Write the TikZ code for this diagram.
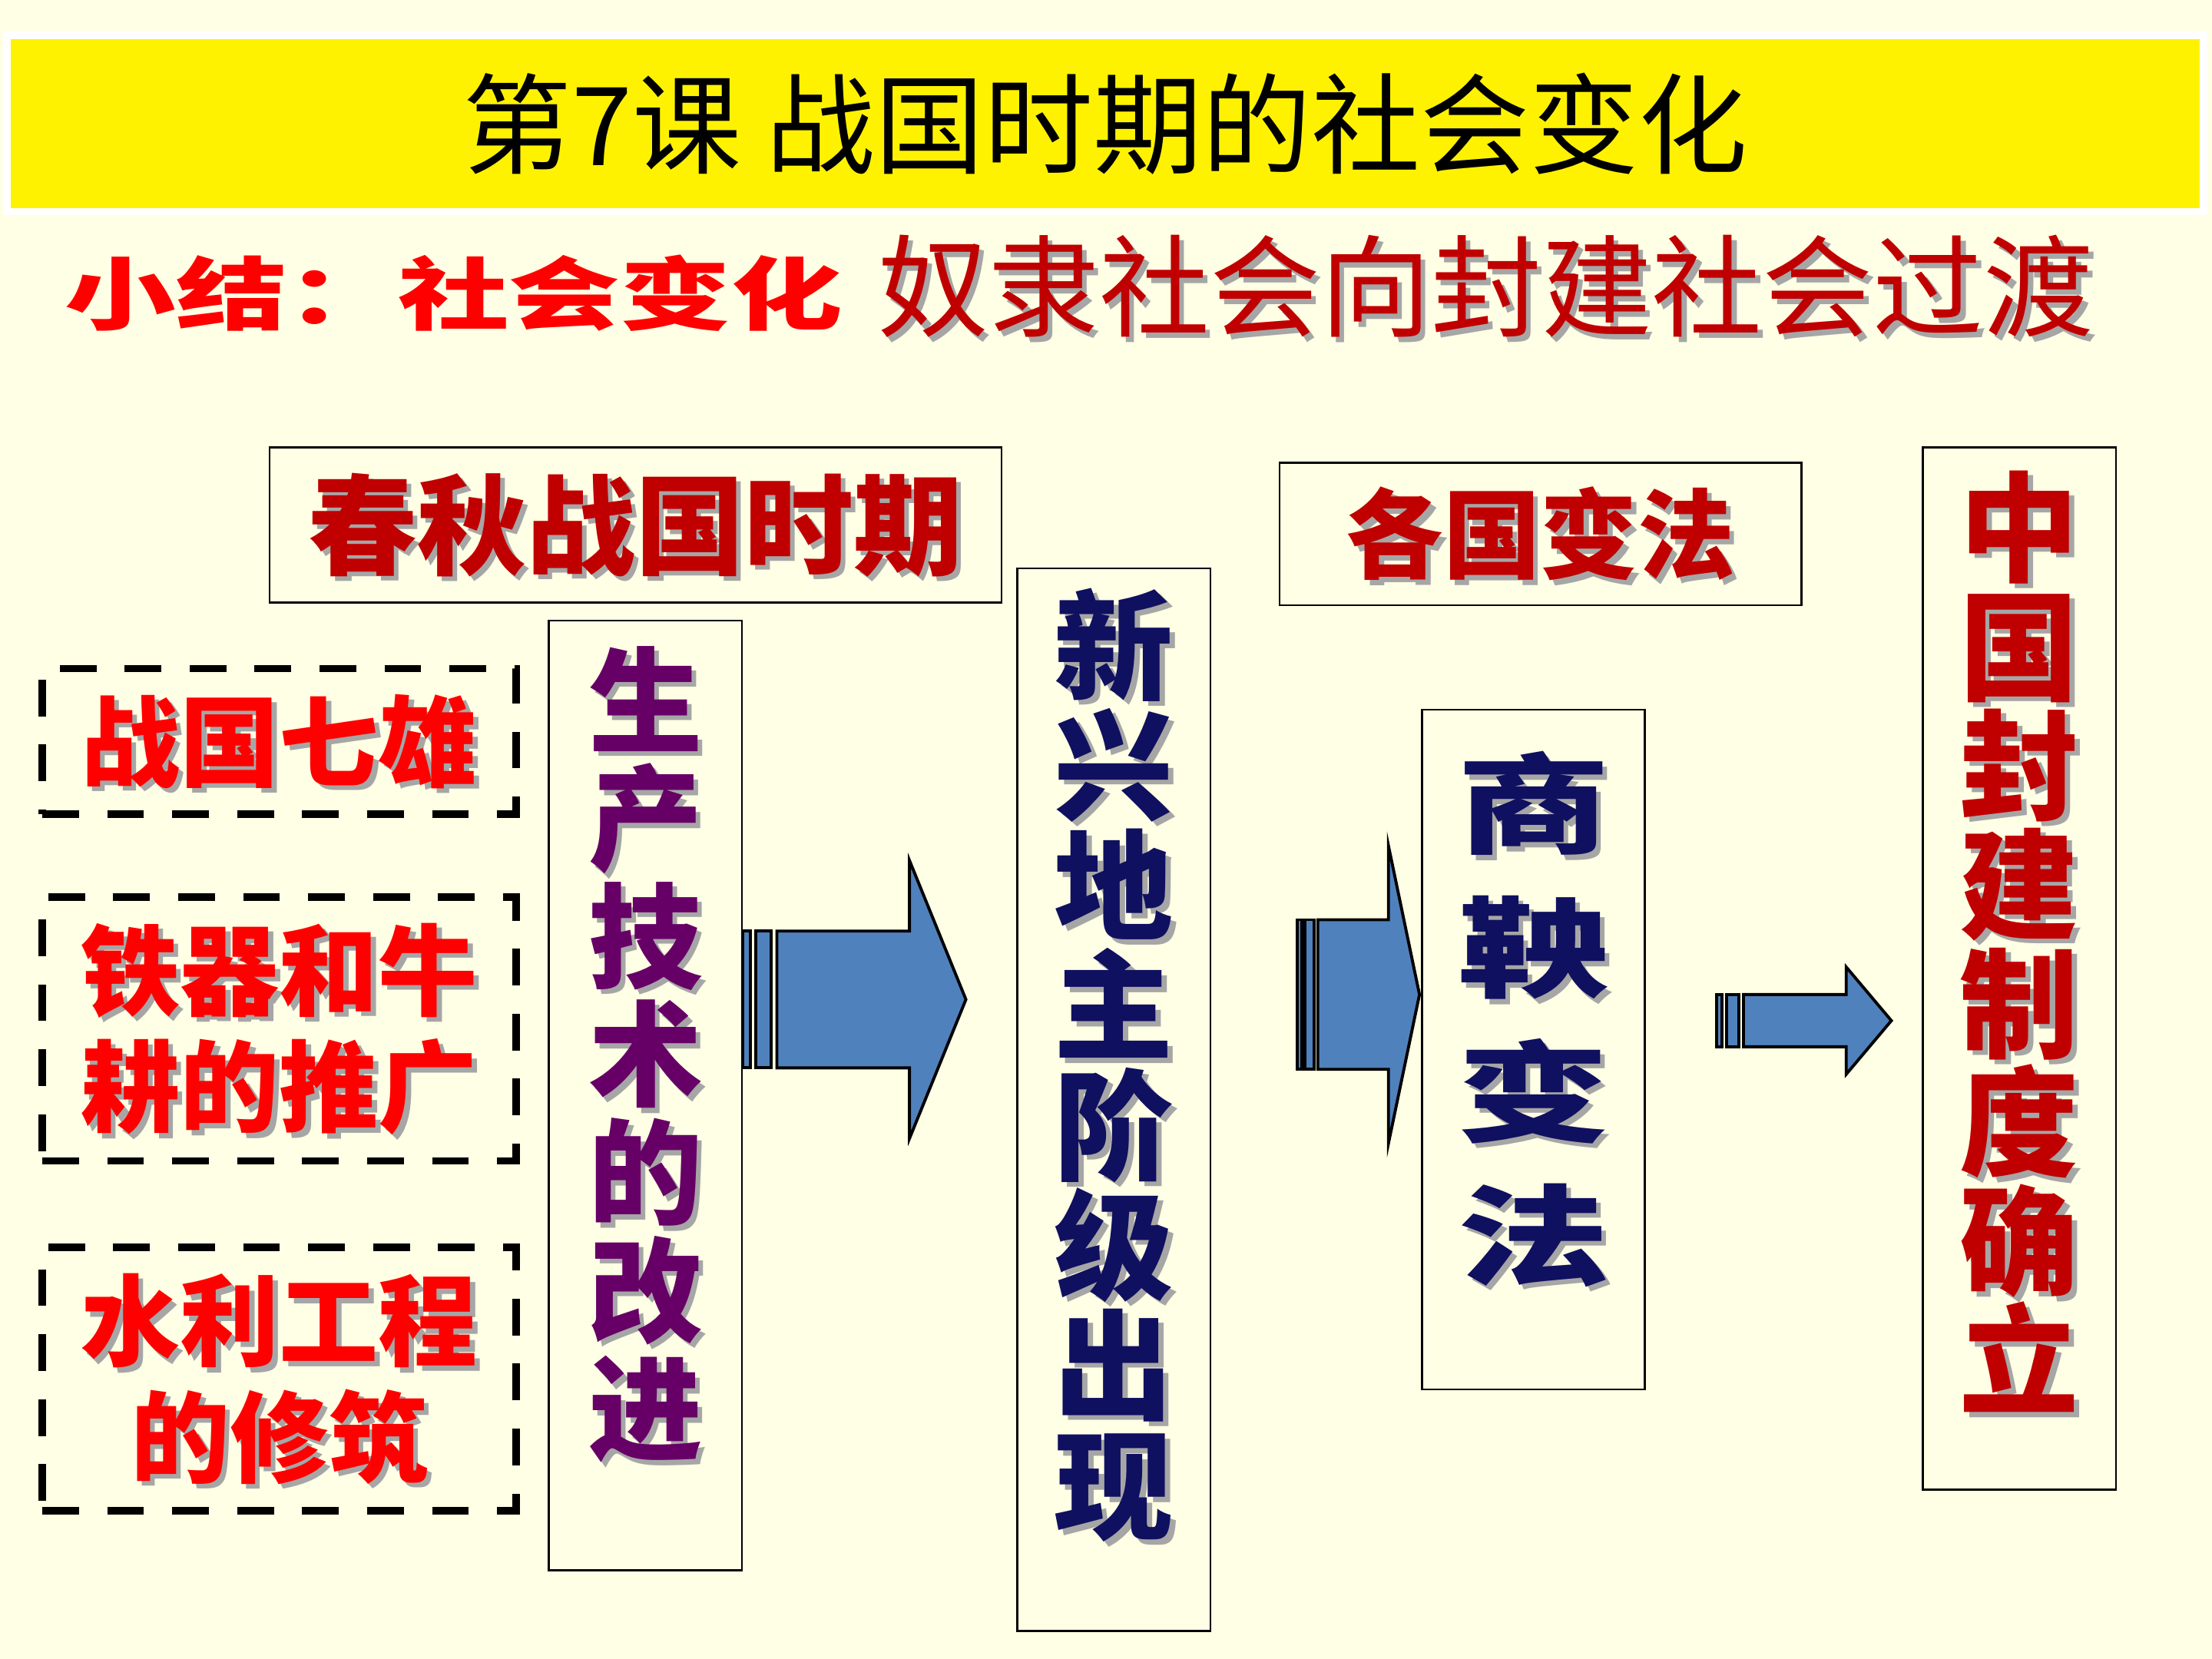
\documentclass[tikz,border=0pt]{standalone}
\usepackage{fontspec}
\usepackage{graphicx}
\setmainfont{Noto Sans CJK SC}
\newfontfamily\hei{Noto Sans CJK SC}
\newfontfamily\fat[FakeStretch=1.4]{Noto Sans CJK SC}

\definecolor{cream}{RGB}{255,255,229}
\definecolor{darkred}{RGB}{192,0,0}
\definecolor{plum}{RGB}{102,0,102}
\definecolor{navy}{RGB}{16,16,96}
\definecolor{arrowblue}{RGB}{79,129,189}

% grey drop shadow behind a piece of text
\newcommand\sh[1]{\leavevmode\rlap{\smash{\kern1pt\raisebox{-1pt}{\textcolor{black!35}{#1}}}}#1}
% one character per line
\newcommand\vend{}
\newcommand\vchars[1]{\vcharsi#1\vend}
\def\vcharsi#1{\ifx#1\vend\else\sh{#1}\par\expandafter\vcharsi\fi}
% block arrow with two bars: start, head x, head length, half body, half head, bar unit
\newcommand\fatarrow[6]{%
  \begin{scope}[shift={#1}]
    \filldraw[blockarrow] (0,-#4) rectangle (#6,#4);
    \filldraw[blockarrow] (1.8*#6,-#4) rectangle (4*#6,#4);
    \filldraw[blockarrow] (4.8*#6,-#4) -- (#2,-#4) -- (#2,-#5) -- ++(#3,#5) -- (#2,#5) -- (#2,#4) -- (4.8*#6,#4) -- cycle;
  \end{scope}}

\begin{document}
\begin{tikzpicture}[
  box/.style={draw=black, line width=0.4pt, inner sep=0pt, align=center},
  dashbox/.style={draw=black, line width=1.5pt, dash pattern=on 7.4pt off 5.7pt, inner sep=0pt,
    minimum width=3.36cm, align=center, text=red, font=\hei\bfseries\fontsize{20pt}{23.5pt}\selectfont},
  blockarrow/.style={fill=arrowblue, draw=black, line width=0.6pt, line join=miter}
]
\useasboundingbox (0,0) rectangle (15.68,-11.76);
\fill[cream] (0,0) rectangle (15.68,-11.76);

% title band
\node[fill=yellow, draw=white, line width=1.5pt, minimum width=15.57cm, minimum height=1.25cm,
  font=\hei\fontsize{22pt}{26pt}\selectfont] (title) at (7.835,-0.875) {第7课 战国时期的社会变化};
\node[text=red, font=\fat\bfseries\fontsize{16pt}{18pt}\selectfont] (xiaojie) at (3.215,-2.08) {小结：社会变化};
\node[text=darkred, font=\hei\fontsize{22.3pt}{26pt}\selectfont] (guodu) at (10.535,-2.03) {\sh{奴隶社会向封建社会过渡}};

% headings
\node[box, minimum width=5.19cm, minimum height=1.10cm, text=darkred,
  font=\hei\bfseries\fontsize{22pt}{26pt}\selectfont] (chunqiu) at (4.505,-3.72) {\sh{春秋战国时期}};
\node[box, minimum width=3.70cm, minimum height=1.01cm, text=darkred,
  font=\hei\bfseries\fontsize{19.6pt}{24pt}\selectfont] (bianfa) at (10.92,-3.785) {\sh{各国变法}};

% dashed boxes
\node[dashbox, minimum height=1.03cm] (qixiong) at (1.98,-5.255) {\sh{战国七雄}};
\node[dashbox, minimum height=1.87cm] (tieqi) at (1.98,-7.295) {\sh{铁器和牛}\\\sh{耕的推广}};
\node[dashbox, minimum height=1.87cm] (shuili) at (1.98,-9.775) {\sh{水利工程}\\\sh{的修筑}};

% vertical boxes
\node[box, text width=1.37cm, minimum height=6.73cm, text=plum,
  font=\hei\bfseries\fontsize{23pt}{23.8pt}\selectfont] (jishu) at (4.575,-7.765) {\vchars{生产技术的改进}\vspace*{0.58cm}};
\node[box, text width=1.37cm, minimum height=7.53cm, text=navy,
  font=\hei\bfseries\fontsize{24pt}{24.2pt}\selectfont] (dizhu) at (7.895,-7.795) {\vchars{新兴地主阶级出现}\vspace*{0.49cm}};
\node[box, text width=1.58cm, minimum height=4.82cm, text=navy,
  font=\fat\bfseries\fontsize{22pt}{29pt}\selectfont] (shangyang) at (10.87,-7.44) {\vchars{商鞅变法}\vspace*{0.43cm}};
\node[box, text width=1.37cm, minimum height=7.39cm, text=darkred,
  font=\hei\bfseries\fontsize{24pt}{24pt}\selectfont] (fengjian) at (14.315,-6.865) {\vchars{中国封建制度确立}\vspace*{0.38cm}};

% block arrows
\coordinate (a1) at ([shift={(0,0.68)}]jishu.east);
\coordinate (a2) at ([shift={(0.61,0.745)}]dizhu.east);
\coordinate (a3) at ([shift={(0.50,0.205)}]shangyang.east);
\fatarrow{(a1)}{1.18}{0.40}{0.485}{0.985}{0.05}
\fatarrow{(a2)}{0.645}{0.22}{0.53}{1.055}{0.03}
\fatarrow{(a3)}{0.92}{0.32}{0.185}{0.38}{0.04}
\end{tikzpicture}
\end{document}
